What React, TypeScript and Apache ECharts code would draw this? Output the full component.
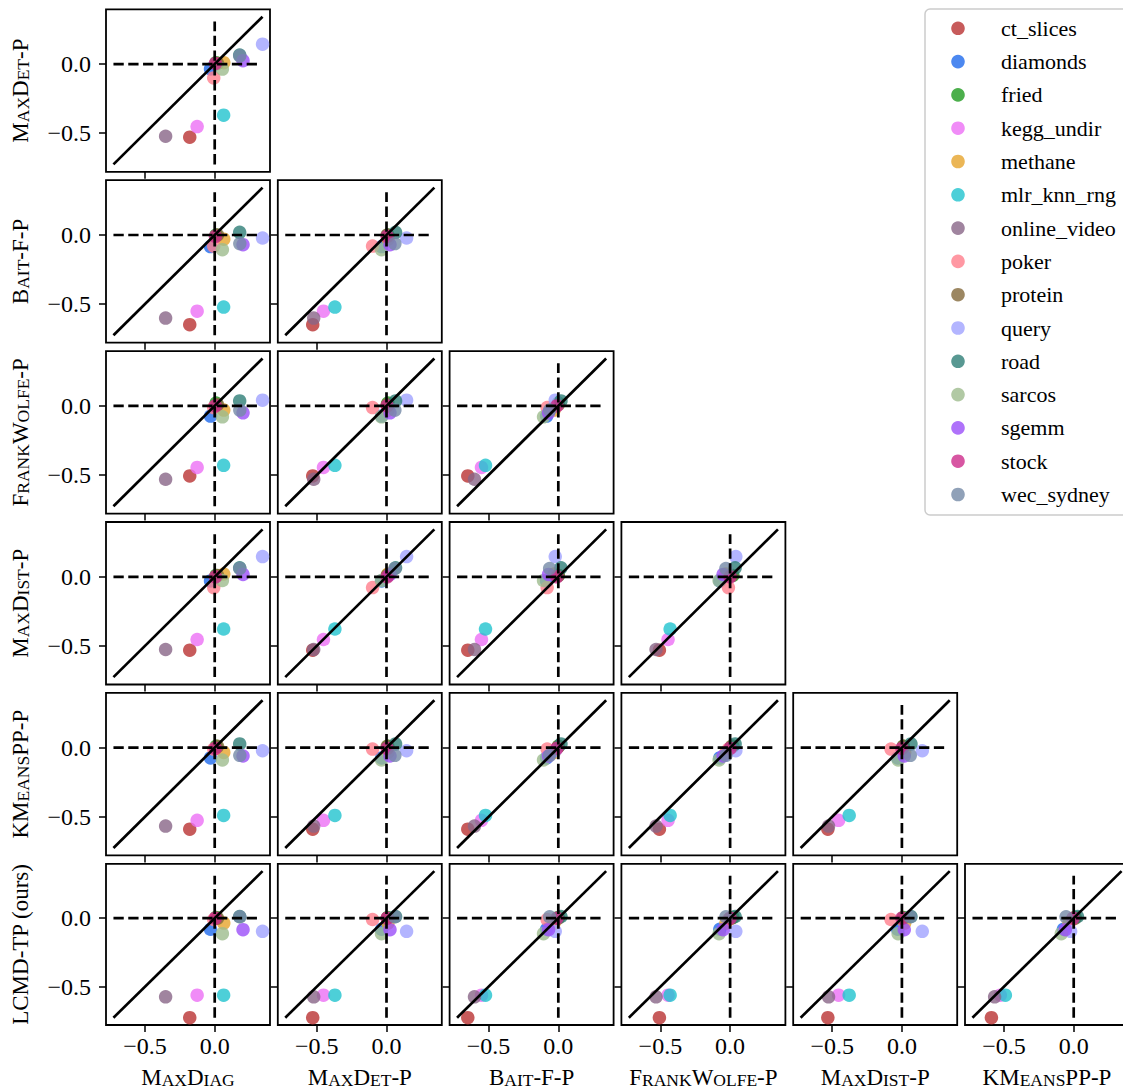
import React, { useEffect, useRef } from 'react';
import * as echarts from 'echarts';

// Methods: columns use the first six, rows use the last six
const methods = ['MaxDiag', 'MaxDet-P', 'Bait-F-P', 'FrankWolfe-P', 'MaxDist-P', 'KMeansPP-P', 'LCMD-TP (ours)'];
const tickValues = [-0.5, 0];

const datasets = ['ct_slices', 'diamonds', 'fried', 'kegg_undir', 'methane', 'mlr_knn_rng', 'online_video', 'poker', 'protein', 'query', 'road', 'sarcos', 'sgemm', 'stock', 'wec_sydney'];
const colors = ['#b93232', '#1f6aec', '#1f9b1f', '#ec6ff5', '#e6a42c', '#21c3ce', '#886587', '#ff7e8c', '#83693b', '#a0a3ff', '#2e7e77', '#9ebc8d', '#9b4ff9', '#cd2c8b', '#7489a6'];

// values per dataset, in the order of `methods`
const ct_slices = [-0.179, -0.529, -0.649, -0.507, -0.531, -0.590, -0.726];
const diamonds = [-0.030, -0.035, -0.084, -0.074, -0.030, -0.074, -0.081];
const fried = [0.010, 0.010, 0.000, 0.020, 0.010, 0.010, 0.005];
const kegg_undir = [-0.126, -0.452, -0.551, -0.445, -0.454, -0.526, -0.562];
const methane = [0.065, 0.010, -0.030, -0.030, 0.020, -0.034, -0.036];
const mlr_knn_rng = [0.064, -0.370, -0.522, -0.430, -0.378, -0.490, -0.562];
const online_video = [-0.352, -0.522, -0.601, -0.531, -0.526, -0.567, -0.574];
const poker = [-0.007, -0.100, -0.080, -0.012, -0.078, -0.010, -0.010];
const protein = [0.020, 0.005, 0.000, 0.010, 0.010, 0.010, 0.000];
const query = [0.343, 0.144, -0.022, 0.041, 0.146, -0.022, -0.096];
const road = [0.179, 0.065, 0.019, 0.036, 0.065, 0.027, 0.012];
const sarcos = [0.055, -0.036, -0.106, -0.079, -0.027, -0.089, -0.113];
const sgemm = [0.203, 0.025, -0.070, -0.050, 0.017, -0.060, -0.084];
const stock = [0.005, 0.005, -0.010, 0.000, 0.000, -0.005, 0.000];
const wec_sydney = [0.180, 0.060, -0.062, -0.030, 0.060, -0.055, 0.010];

const values = [ct_slices, diamonds, fried, kegg_undir, methane, mlr_knn_rng, online_video, poker, protein, query, road, sarcos, sgemm, stock, wec_sydney];

const FONT = '"Liberation Serif", "Times New Roman", serif';

// Render a method name in small capitals using rich text tokens
function smallCaps(name: string): string {
  if (name.indexOf('(ours)') >= 0) return `{b|${name}}`;
  let out = '';
  let cur = '';
  let curKind = '';
  for (const ch of name) {
    const kind = ch >= 'a' && ch <= 'z' ? 's' : 'b';
    const txt = kind === 's' ? ch.toUpperCase() : ch;
    if (kind !== curKind && cur) {
      out += `{${curKind}|${cur}}`;
      cur = '';
    }
    curKind = kind;
    cur += txt;
  }
  if (cur) out += `{${curKind}|${cur}}`;
  return out;
}

const nameRich = {
  b: { fontFamily: FONT, fontSize: 23, color: '#000', verticalAlign: 'bottom', lineHeight: 24 },
  s: { fontFamily: FONT, fontSize: 17.5, color: '#000', verticalAlign: 'bottom', lineHeight: 24 },
};

function buildOption() {
  const all = values.flat();
  const lo = Math.min(...all);
  const hi = Math.max(...all);
  const pad = (hi - lo) * 0.05;
  const axMin = lo - pad;
  const axMax = hi + pad;
  const dashHi = hi * 0.9;

  const grids: any[] = [];
  const xAxes: any[] = [];
  const yAxes: any[] = [];
  const series: any[] = [];
  const fmt = (v: number) => v.toFixed(1).replace('-', '\u2212');

  let g = 0;
  for (let r = 0; r < 6; r++) {
    for (let c = 0; c <= r; c++) {
      grids.push({
        left: 106 + 171.8 * c,
        top: 9.3 + 170.9 * r,
        width: 164,
        height: 162.5,
        show: true,
        borderColor: '#000',
        borderWidth: 1.8,
        backgroundColor: 'transparent',
      });
      const colName = methods[c];
      const rowName = methods[r + 1];
      xAxes.push({
        gridIndex: g,
        type: 'value',
        min: axMin,
        max: axMax,
        axisLine: { show: false, onZero: false },
        axisTick: { show: true, inside: false, length: 7, lineStyle: { color: '#000', width: 1.5 }, customValues: tickValues },
        axisLabel: { show: r === 5, customValues: tickValues, formatter: fmt, margin: 9, fontFamily: FONT, fontSize: 24, color: '#000' },
        splitLine: { show: false },
        name: r === 5 ? smallCaps(colName) : '',
        nameLocation: 'middle',
        nameGap: 40,
        nameTextStyle: { fontFamily: FONT, fontSize: 23, color: '#000', rich: nameRich },
      });
      yAxes.push({
        gridIndex: g,
        type: 'value',
        min: axMin,
        max: axMax,
        axisLine: { show: false, onZero: false },
        axisTick: { show: true, inside: false, length: 7, lineStyle: { color: '#000', width: 1.5 }, customValues: tickValues },
        axisLabel: { show: c === 0, customValues: tickValues, formatter: fmt, margin: 15, fontFamily: FONT, fontSize: 24, color: '#000' },
        splitLine: { show: false },
        name: c === 0 ? smallCaps(rowName) : '',
        nameLocation: 'middle',
        nameRotate: 90,
        nameGap: 74,
        nameTextStyle: { fontFamily: FONT, fontSize: 23, color: '#000', rich: nameRich },
      });
      datasets.forEach((name, d) => {
        series.push({
          type: 'scatter',
          name,
          xAxisIndex: g,
          yAxisIndex: g,
          data: [[values[d][c], values[d][r + 1]]],
          symbolSize: 13.5,
          itemStyle: { color: colors[d], opacity: 0.8 },
          z: 2,
        });
      });
      series.push({
        type: 'line', xAxisIndex: g, yAxisIndex: g, symbol: 'none', silent: true, z: 3,
        data: [[lo, lo], [hi, hi]],
        lineStyle: { color: '#000', width: 2.7 },
      });
      series.push({
        type: 'line', xAxisIndex: g, yAxisIndex: g, symbol: 'none', silent: true, z: 3,
        data: [[lo, 0], [dashHi, 0]],
        lineStyle: { color: '#000', width: 2.7, type: [10.3, 4.5] },
      });
      series.push({
        type: 'line', xAxisIndex: g, yAxisIndex: g, symbol: 'none', silent: true, z: 3,
        data: [[0, lo], [0, dashHi]],
        lineStyle: { color: '#000', width: 2.7, type: [10.3, 4.5] },
      });
      g++;
    }
  }

  // Legend drawn as graphic elements for exact placement
  const legendItems: any[] = [];
  datasets.forEach((name, d) => {
    const cy = 28.3 + 33.3 * d;
    legendItems.push({
      type: 'circle',
      shape: { cx: 958, cy, r: 6.8 },
      style: { fill: colors[d], opacity: 0.8 },
      z: 10,
    });
    legendItems.push({
      type: 'text',
      x: 1001,
      y: cy,
      style: { text: name, fill: '#000', fontFamily: FONT, fontSize: 22, verticalAlign: 'middle', align: 'left' },
      z: 10,
    });
  });

  return {
    animation: false,
    backgroundColor: '#fff',
    grid: grids,
    xAxis: xAxes,
    yAxis: yAxes,
    series,
    graphic: [
      {
        type: 'rect',
        shape: { x: 925, y: 9, width: 230, height: 506, r: 5 },
        style: { fill: 'rgba(255,255,255,0.8)', stroke: '#cccccc', lineWidth: 1.5 },
        z: 9,
      },
      ...legendItems,
    ],
  };
}

export default function App() {
  const ref = useRef<HTMLDivElement>(null);
  useEffect(() => {
    if (!ref.current) return;
    const chart = echarts.init(ref.current, null, { renderer: 'svg' });
    chart.setOption(buildOption() as any);
    return () => chart.dispose();
  }, []);
  return (
    <div style={{ position: 'absolute', left: 0, top: 0, width: 1123, height: 1090, overflow: 'hidden' }}>
      <div ref={ref} style={{ width: 1260, height: 1090 }} />
    </div>
  );
}
